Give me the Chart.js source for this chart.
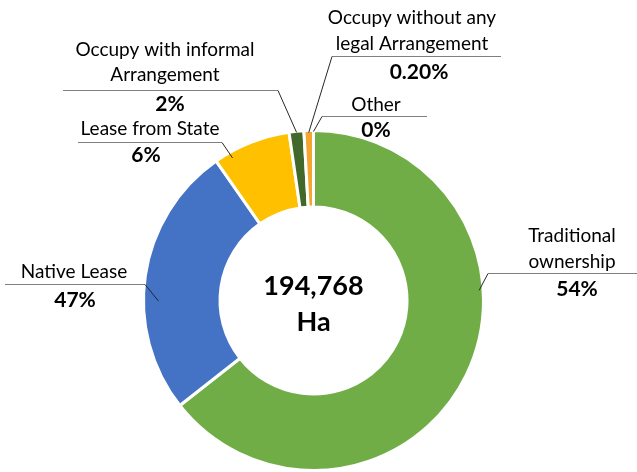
<!DOCTYPE html>
<html>
<head>
<meta charset="utf-8">
<script src="https://cdn.jsdelivr.net/npm/chart.js@4"></script>
<style>
  html, body { margin: 0; padding: 0; background: #fff; }
  #wrap { width: 637px; height: 472px; position: relative; }
</style>
</head>
<body>
<div id="wrap"><canvas id="landChart"></canvas></div>
<script>
// chart data
const categories = ['Traditional ownership', 'Native Lease', 'Lease from State',
  'Occupy with informal Arrangement', 'Occupy without any legal Arrangement', 'Other'];
const shares = [64.4, 25.9, 7.4, 1.4, 0.9, 0];
const pctLabels = ['54%', '47%', '6%', '2%', '0.20%', '0%'];
const nameLines = [
  ['Traditional', 'ownership'],
  ['Native Lease'],
  ['Lease from State'],
  ['Occupy with informal', 'Arrangement'],
  ['Occupy without any', 'legal Arrangement'],
  ['Other']
];
const centerText = ['194,768', 'Ha'];
const sliceColors = ['#70AD47', '#4472C4', '#FFC000', '#43682B', '#F4A630', '#A5A5A5'];

// where each callout sits (text centre, underline, where on the slice the leader ends)
const callouts = [
  { x: 572, ys: [236, 262], pctX: 577, pctY: 289, lineY: 273, x1: 488, x2: 637, side: 'left', frac: 0.373, inset: 4 },
  { x: 74, ys: [272], pctX: 75, pctY: 300, lineY: 284, x1: 5, x2: 145, side: 'right', frac: 0.407, inset: 15 },
  { x: 150, ys: [129], pctX: 146, pctY: 155, lineY: 142, x1: 78, x2: 222, side: 'right', frac: 0.2, inset: 6 },
  { x: 165, ys: [50, 75], pctX: 170, pctY: 104, lineY: 90, x1: 63, x2: 278, side: 'right', frac: 0.5, inset: 1 },
  { x: 412, ys: [18, 44], pctX: 419, pctY: 72, lineY: 56, x1: 332, x2: 501, side: 'left', frac: 0.5, inset: 2 },
  { x: 376, ys: [105], pctX: 376, pctY: 130, lineY: 116, x1: 322, x2: 427, side: 'left', frac: 0.5, inset: 1 }
];

const calloutPlugin = {
  id: 'callouts',
  afterDraw(chart) {
    const ctx = chart.ctx;
    const arcs = chart.getDatasetMeta(0).data;
    ctx.save();
    ctx.textAlign = 'center';
    ctx.textBaseline = 'middle';
    ctx.fillStyle = '#000';

    callouts.forEach((c, i) => {
      const arc = arcs[i];
      const p = arc.getProps(['x', 'y', 'startAngle', 'endAngle', 'outerRadius'], true);
      const a = p.startAngle + (p.endAngle - p.startAngle) * c.frac;
      const r = p.outerRadius - c.inset;
      const ex = p.x + r * Math.cos(a);
      const ey = p.y + r * Math.sin(a);
      const sx = c.side === 'left' ? c.x1 : c.x2;

      // underline
      ctx.strokeStyle = '#7F7F7F';
      ctx.lineWidth = 1;
      ctx.beginPath();
      ctx.moveTo(c.x1, c.lineY + 0.5);
      ctx.lineTo(c.x2, c.lineY + 0.5);
      ctx.stroke();
      // leader
      ctx.strokeStyle = '#262626';
      ctx.beginPath();
      ctx.moveTo(sx, c.lineY + 0.5);
      ctx.lineTo(ex, ey);
      ctx.stroke();

      ctx.font = '19px Lato';
      nameLines[i].forEach((t, k) => ctx.fillText(t, c.x, c.ys[k]));
      ctx.font = 'bold 21px Lato';
      ctx.fillText(pctLabels[i], c.pctX, c.pctY);
    });

    // centre total
    const cx = arcs[0].x;
    ctx.font = 'bold 27px Lato';
    ctx.fillText(centerText[0], cx, 286);
    ctx.fillText(centerText[1], cx, 322);
    ctx.restore();
  }
};

new Chart(document.getElementById('landChart'), {
  type: 'doughnut',
  data: {
    labels: categories,
    datasets: [{
      data: shares,
      backgroundColor: sliceColors,
      borderColor: '#FFFFFF',
      borderWidth: 3
    }]
  },
  options: {
    responsive: true,
    maintainAspectRatio: false,
    animation: false,
    cutout: '55%',
    layout: { padding: { top: 129, bottom: 0, left: 142, right: 152 } },
    plugins: {
      legend: { display: false },
      tooltip: { enabled: false }
    }
  },
  plugins: [calloutPlugin]
});
</script>
</body>
</html>
